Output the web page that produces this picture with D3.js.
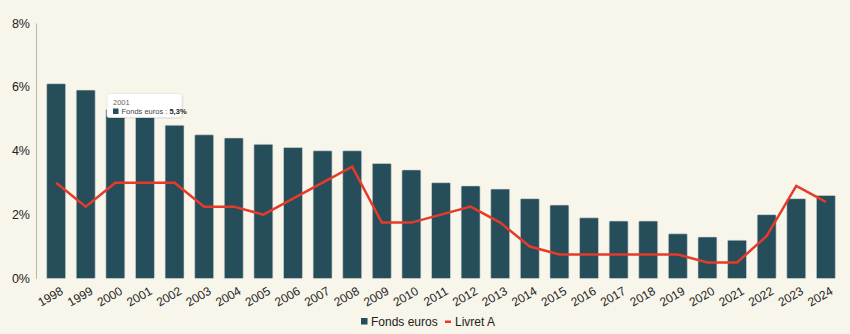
<!DOCTYPE html>
<html><head><meta charset="utf-8">
<script src="https://cdn.jsdelivr.net/npm/d3@7"></script>
<style>
html,body{margin:0;padding:0;background:#f8f5ea;}
svg{display:block;font-family:"Liberation Sans",Arial,sans-serif;}
</style></head>
<body>
<svg id="chart" width="850" height="334"></svg>
<script>
const years = ["1998","1999","2000","2001","2002","2003","2004","2005","2006","2007","2008","2009","2010","2011","2012","2013","2014","2015","2016","2017","2018","2019","2020","2021","2022","2023","2024"];
const fondsEuros = [6.1,5.9,5.3,5.3,4.8,4.5,4.4,4.2,4.1,4.0,4.0,3.6,3.4,3.0,2.9,2.8,2.5,2.3,1.9,1.8,1.8,1.4,1.3,1.2,2.0,2.5,2.6];
const livretA = [3.0,2.25,3.0,3.0,3.0,2.25,2.25,2.0,2.5,3.0,3.5,1.75,1.75,2.0,2.25,1.75,1.0,0.75,0.75,0.75,0.75,0.75,0.5,0.5,1.33,2.9,2.4];
const yTicks = [0,2,4,6,8];
const seriesNames = ["Fonds euros","Livret A"];
const tooltipYear = "2001";

(function(){
const svg = d3.select("#chart");
const pLeft = 36, pRight = 846, pTop = 23, pBottom = 278.5;
const barColor = "#264d5a", lineColor = "#e63b2a";

const x = d3.scaleBand().domain(years).range([pLeft, pRight]).padding(0.36);
const y = d3.scaleLinear().domain([0, 8]).range([pBottom, pTop]);

// y axis
const yAxis = d3.axisLeft(y).tickValues(yTicks).tickFormat(d => d + "%").tickSize(0).tickPadding(6);
const gy = svg.append("g").attr("transform", `translate(${pLeft},0)`).call(yAxis);
gy.select(".domain").attr("stroke", "#b8b5ac").attr("stroke-width", 1);
gy.selectAll("text").attr("font-size", 12.5).attr("fill", "#222").attr("font-family", "Liberation Sans, Arial, sans-serif");

// bars
svg.append("g").selectAll("rect").data(years).join("rect")
  .attr("x", d => x(d))
  .attr("y", (d, i) => y(fondsEuros[i]))
  .attr("width", x.bandwidth())
  .attr("height", (d, i) => y(0) - y(fondsEuros[i]))
  .attr("fill", barColor)
  .attr("stroke", "#d9dcd6").attr("stroke-width", 0.6)
  .attr("rx", 1);

// x axis
const xAxis = d3.axisBottom(x).tickSize(0).tickPadding(0);
const gx = svg.append("g").attr("transform", `translate(0,${pBottom})`).call(xAxis);
gx.select(".domain").remove();
gx.selectAll("text")
  .attr("font-size", 12).attr("fill", "#222")
  .attr("font-family", "Liberation Sans, Arial, sans-serif")
  .attr("text-anchor", "end")
  .attr("dy", null).attr("y", 0)
  .attr("transform", `translate(8,15) rotate(-30)`);

// line
const line = d3.line().x((d, i) => x(years[i]) + x.bandwidth() / 2).y(d => y(d));
svg.append("path").datum(livretA)
  .attr("d", line).attr("fill", "none")
  .attr("stroke", lineColor).attr("stroke-width", 2.5)
  .attr("stroke-linejoin", "miter");

// legend
const lg = svg.append("g").attr("font-size", 12).attr("fill", "#222");
lg.append("rect").attr("x", 361).attr("y", 318).attr("width", 6.5).attr("height", 6.5).attr("fill", barColor);
lg.append("text").attr("x", 371).attr("y", 325.5).text(seriesNames[0]);
lg.append("rect").attr("x", 445).attr("y", 320.5).attr("width", 6).attr("height", 2.5).attr("fill", lineColor);
lg.append("text").attr("x", 455).attr("y", 325.5).text(seriesNames[1]);

// tooltip
const ti = years.indexOf(tooltipYear);
const tg = svg.append("g");
tg.append("rect").attr("x", 108.5).attr("y", 95).attr("width", 75).attr("height", 24)
  .attr("fill", "#000").attr("opacity", 0.06).attr("rx", 2);
tg.append("rect").attr("x", 107).attr("y", 93.5).attr("width", 75).attr("height", 24)
  .attr("fill", "#fff").attr("stroke", "#e4e4e4").attr("stroke-width", 0.8).attr("rx", 2);
tg.append("text").attr("x", 113).attr("y", 104.5).attr("font-size", 7.5).attr("fill", "#666").text(years[ti]);
tg.append("rect").attr("x", 113).attr("y", 108.5).attr("width", 5.5).attr("height", 5.5).attr("fill", barColor);
const tt = tg.append("text").attr("x", 121.5).attr("y", 114).attr("font-size", 7.5).attr("fill", "#444");
tt.append("tspan").text(seriesNames[0] + " : ");
tt.append("tspan").attr("font-weight", "bold").attr("fill", "#222").text(String(fondsEuros[ti]).replace(".", ",") + "%");
})();
</script>
</body></html>
